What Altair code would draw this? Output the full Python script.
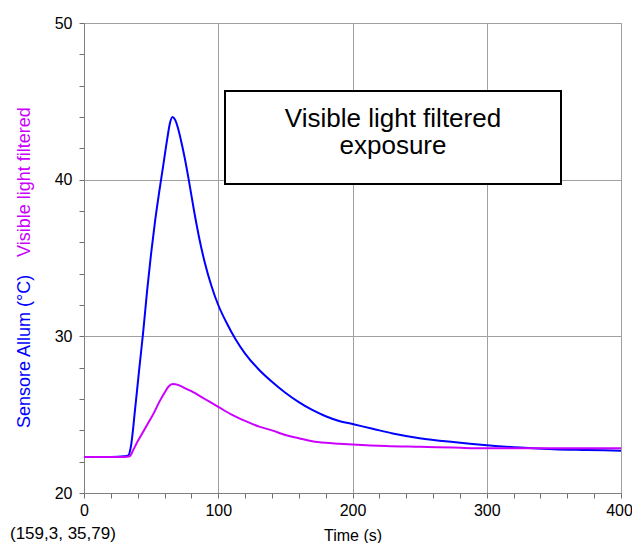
import altair as alt
import pandas as pd

# Blue series: Sensore Allum (°C)
blue_t = [0, 10, 20, 30, 33, 35, 38, 41, 44, 47, 50, 53, 56, 59, 62, 64, 66, 68, 70, 72,
          75, 78, 82, 86, 90, 95, 100, 106, 113, 120, 130, 140, 150, 160, 170, 180, 190,
          200, 215, 230, 250, 275, 300, 325, 350, 375, 400]
blue_v = [22.3, 22.3, 22.3, 22.35, 22.4, 23.0, 25.3, 27.8, 30.2, 32.9, 35.3, 37.4, 39.2,
          40.9, 42.6, 43.6, 44.0, 43.8, 43.3, 42.6, 41.4, 40.0, 38.0, 36.2, 34.7, 33.2,
          32.0, 30.9, 29.8, 28.9, 27.9, 27.1, 26.4, 25.8, 25.3, 24.9, 24.6, 24.4, 24.1,
          23.8, 23.5, 23.25, 23.05, 22.9, 22.8, 22.75, 22.7]

# Magenta series: Visible light filtered
mag_t = [0, 10, 20, 30, 34, 37, 40, 44, 48, 52, 56, 60, 63, 66, 70, 75, 80, 90, 100, 110,
         120, 130, 140, 150, 160, 170, 180, 190, 200, 225, 250, 275, 300, 350, 400]
mag_v = [22.3, 22.3, 22.3, 22.3, 22.35, 22.8, 23.3, 23.9, 24.5, 25.1, 25.8, 26.4, 26.8,
         26.95, 26.9, 26.7, 26.5, 26.0, 25.5, 25.0, 24.6, 24.25, 24.0, 23.7, 23.5, 23.3,
         23.2, 23.15, 23.1, 23.0, 22.95, 22.9, 22.85, 22.85, 22.85]

x_ticks = list(range(0, 401, 20))
y_ticks = list(range(20, 51, 2))

BLUE = "#0000ff"
MAGENTA = "#cc00ff"
FONT = "Liberation Sans"
GRID = "#a0a0a0"

blue_df = pd.DataFrame({"t": blue_t, "v": blue_v})
mag_df = pd.DataFrame({"t": mag_t, "v": mag_v})

x_axis = alt.Axis(values=x_ticks,
                  labelExpr="datum.value % 100 === 0 ? datum.label : ''",
                  labelOverlap=False, labelFlush=False, labelPadding=4,
                  labelOffset={"condition": {"test": "datum.value === 400", "value": -2}, "value": 0},
                  gridOpacity={"condition": {"test": "datum.value % 100 === 0", "value": 1}, "value": 0},
                  title="Time (s)", titlePadding=9)
y_axis = alt.Axis(values=y_ticks,
                  labelExpr="datum.value % 10 === 0 ? datum.label : ''",
                  labelOverlap=False, labelFlush=False, labelPadding=7,
                  gridOpacity={"condition": {"test": "datum.value % 10 === 0", "value": 1}, "value": 0},
                  title=None)

x_enc = alt.X("t:Q", scale=alt.Scale(domain=[0, 400], nice=False), axis=x_axis)
y_enc = alt.Y("v:Q", scale=alt.Scale(domain=[20, 50], nice=False), axis=y_axis)

blue_line = alt.Chart(blue_df).mark_line(color=BLUE, strokeWidth=2, interpolate="monotone").encode(
    x=x_enc, y=y_enc)
mag_line = alt.Chart(mag_df).mark_line(color=MAGENTA, strokeWidth=2, interpolate="monotone").encode(
    x=x_enc, y=y_enc)

one = alt.Data(values=[{}])

box = alt.Chart(one).mark_rect(fill="white", stroke="black", strokeWidth=2).encode(
    x=alt.value(141), x2=alt.value(477), y=alt.value(68), y2=alt.value(161))
ann1 = alt.Chart(one).mark_text(font=FONT, fontSize=26, align="center", baseline="alphabetic",
                                color="black").encode(
    x=alt.value(309), y=alt.value(104), text=alt.value("Visible light filtered"))
ann2 = alt.Chart(one).mark_text(font=FONT, fontSize=26, align="center", baseline="alphabetic",
                                color="black").encode(
    x=alt.value(309), y=alt.value(131), text=alt.value("exposure"))

ytitle_blue = alt.Chart(one).mark_text(font=FONT, fontSize=18, angle=270, align="left",
                                       baseline="alphabetic", color=BLUE).encode(
    x=alt.value(-54), y=alt.value(405), text=alt.value("Sensore Allum (°C)"))
ytitle_mag = alt.Chart(one).mark_text(font=FONT, fontSize=18, angle=270, align="left",
                                      baseline="alphabetic", color=MAGENTA).encode(
    x=alt.value(-54), y=alt.value(234), text=alt.value("Visible light filtered"))

coords = alt.Chart(one).mark_text(font=FONT, fontSize=17, align="left", baseline="alphabetic",
                                  color="black").encode(
    x=alt.value(-74), y=alt.value(516), text=alt.value("(159,3, 35,79)"))

chart = alt.layer(blue_line, mag_line, box, ann1, ann2, ytitle_blue, ytitle_mag, coords).properties(
    width=537, height=470,
    background="white",
    autosize=alt.AutoSizeParams(type="none"),
    padding={"left": 76, "top": 15, "right": 11, "bottom": 50},
).configure_view(stroke=GRID, strokeWidth=1).configure_axis(
    labelFont=FONT, labelFontSize=16, labelColor="black",
    titleFont=FONT, titleFontSize=16, titleFontWeight="normal", titleColor="black",
    gridColor=GRID, gridWidth=1,
    domainColor="#808080", domainWidth=1,
    tickColor="#707070", tickSize=5,
)

chart.save("out.html", embed_options={"renderer": "svg", "actions": False})
